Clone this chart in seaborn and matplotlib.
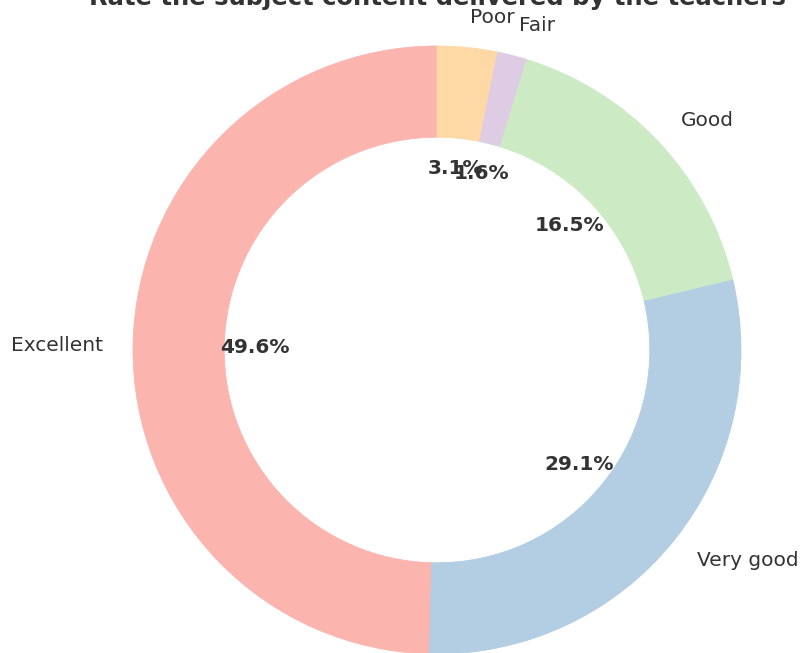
import matplotlib
matplotlib.use("Agg")
import matplotlib.pyplot as plt
import seaborn as sns

# Survey responses (counts)
labels = ['Excellent', 'Very good', 'Good', 'Fair', 'Poor']
counts = [63, 37, 21, 2, 4]

sns.set_theme(style="white")
colors = sns.color_palette("Pastel1", len(labels))

fig = plt.figure(figsize=(8, 6.53), dpi=100)
ax = fig.add_axes([0, 0, 1, 1])

wedges, texts, autotexts = ax.pie(
    counts, labels=labels, colors=colors, startangle=90,
    autopct='%1.1f%%', pctdistance=0.6, labeldistance=1.1,
    wedgeprops=dict(width=0.3, linewidth=0.6),
    textprops=dict(color='#333333', fontsize=14.5),
)
# no white seams between wedges
for w in wedges:
    w.set_edgecolor(w.get_facecolor())
for t in autotexts:
    t.set_fontweight('bold')
    t.set_fontsize(14.5)

# place the pie like the reference (centre at 437,350 px, radius 304 px)
r = 304.0
ax.set_xlim(-437 / r, (800 - 437) / r)
ax.set_ylim(-(653 - 350) / r, 350 / r)
ax.set_aspect('equal')
ax.axis('off')

ax.text(0, (350 - 5) / r, 'Rate the subject content delivered by the teachers',
        ha='center', va='baseline', fontsize=17.5, fontweight='bold', color='#333333')

fig.savefig('out.png', dpi=100)
